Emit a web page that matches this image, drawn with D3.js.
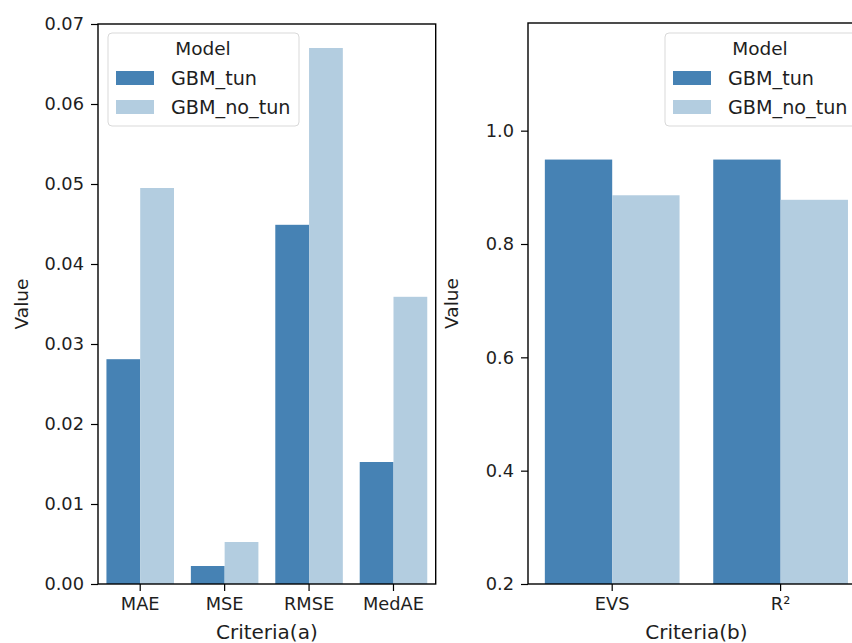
<!DOCTYPE html>
<html><head><meta charset="utf-8">
<script src="https://cdn.jsdelivr.net/npm/d3@7"></script>
<style>body{margin:0;background:#fff}svg{display:block}text{font-family:"DejaVu Sans",sans-serif;fill:#1e1e1e}</style>
</head><body><svg id="c" width="852" height="643"></svg>
<script>
const models = ["GBM_tun", "GBM_no_tun"];
const colors = ["#4682b4", "#b3cde0"];
const catsA = ["MAE", "MSE", "RMSE", "MedAE"];
const tunA = [0.0281, 0.00225, 0.0449, 0.01525];
const noTunA = [0.0495, 0.00525, 0.0670, 0.0359];
const ticksA = [0, 0.01, 0.02, 0.03, 0.04, 0.05, 0.06, 0.07];
const catsB = ["EVS", "R²"];
const tunB = [0.949, 0.949];
const noTunB = [0.886, 0.878];
const ticksB = [0.2, 0.4, 0.6, 0.8, 1.0];

const svg = d3.select("#c");
const TICK_FS = 17.8, LABEL_FS = 20, LEG_FS = 19.2, TITLE_FS = 18.5;

function panel(opts) {
  const {x0, x1, y0, y1, cats, series, domain, ticks, fmt, xlabel, legendX} = opts;
  const g = svg.append("g");
  const x = d3.scaleBand().domain(cats).range([x0, x1]).padding(0);
  const bw = x.bandwidth();
  const xs = d3.scaleBand().domain(models).range([0.1 * bw, 0.9 * bw]).padding(0);
  const y = d3.scaleLinear().domain(domain).range([y1, y0]);
  cats.forEach((c, i) => {
    models.forEach((m, j) => {
      const v = series[j][i];
      g.append("rect").attr("x", x(c) + xs(m)).attr("width", xs.bandwidth())
        .attr("y", y(v)).attr("height", y1 - y(v)).attr("fill", colors[j]);
    });
  });
  const ya = d3.axisLeft(y).tickValues(ticks).tickFormat(fmt).tickSize(7).tickPadding(7);
  const yg = g.append("g").attr("transform", `translate(${x0},0)`).call(ya);
  const xa = d3.axisBottom(x).tickSize(7).tickPadding(6);
  const xg = g.append("g").attr("transform", `translate(0,${y1})`).call(xa);
  [yg, xg].forEach(a => {
    a.select(".domain").remove();
    a.selectAll("line").attr("stroke", "#000").attr("stroke-width", 1.2);
    a.selectAll("text").style("font-size", TICK_FS + "px").attr("fill", "#1e1e1e").style("font-family", "DejaVu Sans");
  });
  g.append("rect").attr("x", x0).attr("y", y0).attr("width", x1 - x0).attr("height", y1 - y0)
    .attr("fill", "none").attr("stroke", "#000").attr("stroke-width", 1.4);
  g.append("text").attr("x", (x0 + x1) / 2).attr("y", 639).attr("text-anchor", "middle")
    .style("font-size", LABEL_FS + "px").text(xlabel);
  g.append("text").attr("transform", `translate(${x0 - 70},${(y0 + y1) / 2}) rotate(-90)`)
    .attr("text-anchor", "middle").style("font-size", TITLE_FS + "px").text("Value");
  // legend
  const lg = g.append("g").attr("transform", `translate(${legendX},33)`);
  lg.append("rect").attr("width", 191).attr("height", 93).attr("rx", 4)
    .attr("fill", "#fff").attr("fill-opacity", 0.8).attr("stroke", "#d9d9d9").attr("stroke-width", 1);
  lg.append("text").attr("x", 95).attr("y", 22).attr("text-anchor", "middle").style("font-size", TITLE_FS + "px").text("Model");
  models.forEach((m, j) => {
    lg.append("rect").attr("x", 8).attr("y", 38 + j * 29).attr("width", 38).attr("height", 14).attr("fill", colors[j]);
    lg.append("text").attr("x", 63).attr("y", 52 + j * 29).style("font-size", LEG_FS + "px").text(m);
  });
}

panel({x0: 98, x1: 435.7, y0: 24, y1: 584, cats: catsA, series: [tunA, noTunA],
  domain: [0, 0.07], ticks: ticksA, fmt: d3.format(".2f"), xlabel: "Criteria(a)", legendX: 108});
panel({x0: 528, x1: 864.8, y0: 23, y1: 584, cats: catsB, series: [tunB, noTunB],
  domain: [0.2, 1.19], ticks: ticksB, fmt: d3.format(".1f"), xlabel: "Criteria(b)", legendX: 665});
</script></body></html>
